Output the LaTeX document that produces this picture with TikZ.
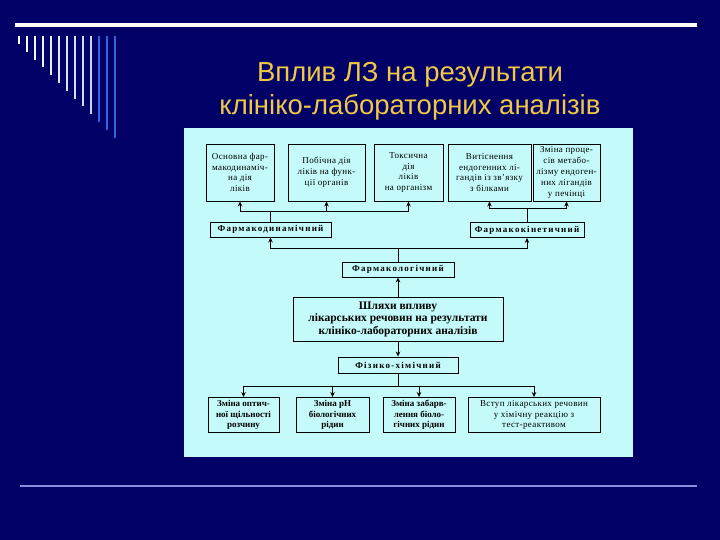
\documentclass[tikz,border=0pt]{standalone}
\usepackage{fontspec}
\setmainfont{Liberation Serif}
\newfontfamily\titlefont{Liberation Sans}
\usetikzlibrary{arrows.meta}
\definecolor{slidebg}{RGB}{0,0,102}
\definecolor{panel}{RGB}{196,250,250}
\definecolor{titlegold}{RGB}{240,200,70}
\definecolor{stripeblue}{RGB}{51,102,221}
\definecolor{rulelilac}{RGB}{140,140,220}

\begin{document}
\begin{tikzpicture}[x=1pt,y=-1pt,box/.style={draw=black,line width=0.9pt,align=center,inner sep=1pt,font=\fontsize{9}{10.8}\selectfont\addfontfeatures{LetterSpace=4}},boldbox/.style={box,font=\fontsize{9}{10.5}\selectfont\bfseries},tier/.style={box,minimum height=15pt,font=\fontsize{9}{10}\selectfont\bfseries\addfontfeatures{LetterSpace=14}},wire/.style={line width=0.9pt},link/.style={-{Stealth[length=5pt,width=4.5pt]},line width=0.9pt}]
% slide
\fill[slidebg] (0,0) rectangle (720,540);
\draw[white,line width=4pt] (15,25) -- (697,25);
\draw[rulelilac,line width=2pt] (20,486) -- (697,486);
\foreach \i in {0,...,9}{\pgfmathtruncatemacro\tint{100-3*\i}\draw[white!\tint!stripeblue,line width=2.6pt] (19+8*\i,36) -- (19+8*\i,44+7.8*\i);}
\foreach \i in {10,11,12}{\draw[stripeblue,line width=2.6pt] (19+8*\i,36) -- (19+8*\i,44+7.8*\i);}
\node[font=\titlefont\fontsize{27.5}{33}\selectfont,text=titlegold,align=center] (title) at (410,91) {Вплив ЛЗ на результати\\клініко-лабораторних аналізів};
\fill[panel] (184,128) rectangle (633,457);
% top row
\node[box,minimum width=68pt,minimum height=57pt] (t1) at (240,172.5) {Основна фар-\\макодинаміч-\\на дія\\ліків};
\node[box,minimum width=77pt,minimum height=57pt] (t2) at (326.5,172.5) {Побічна дія\\ліків на функ-\\ції органів};
\node[box,minimum width=69pt,minimum height=57pt] (t3) at (408.5,172.5) {Токсична\\дія\\ліків\\на організм};
\node[box,minimum width=83pt,minimum height=57pt] (t4) at (489.5,172.5) {Витіснення\\ендогенних лі-\\гандів із зв'язку\\з білками};
\node[box,minimum width=67pt,minimum height=57pt] (t5) at (566.5,172.5) {Зміна проце-\\сів метабо-\\лізму ендоген-\\них лігандів\\у печінці};
% middle
\node[tier,minimum width=121pt] (pd) at (270.5,229.5) {Фармакодинамічний};
\node[tier,minimum width=114pt] (pk) at (527,230) {Фармакокінетичний};
\node[tier,minimum width=112pt] (pl) at (398,269.5) {Фармакологічний};
\node[box,minimum width=210pt,minimum height=44pt,font=\fontsize{11.5}{12.5}\selectfont\bfseries] (sh) at (398,319) {Шляхи впливу\\лікарських речовин на результати\\клініко-лабораторних аналізів};
\node[tier,minimum width=120pt,minimum height=16pt] (fh) at (398,365) {Фізико-хімічний};
% bottom row
\node[boldbox,minimum width=71pt,minimum height=35pt] (b1) at (243.5,415) {Зміна оптич-\\ної щільності\\розчину};
\node[boldbox,minimum width=73pt,minimum height=35pt] (b2) at (332.5,415) {Зміна pH\\біологічних\\рідин};
\node[boldbox,minimum width=72pt,minimum height=35pt] (b3) at (419,415) {Зміна забарв-\\лення біоло-\\гічних рідин};
\node[box,minimum width=132pt,minimum height=35pt,font=\fontsize{9}{10.5}\selectfont\addfontfeatures{LetterSpace=4}] (b4) at (534,415) {Вступ лікарських речовин\\у хімічну реакцію з\\тест-реактивом};
% connectors
\coordinate (lbus) at (270.5,211);
\coordinate (rbus) at (527,208);
\coordinate (mbus) at (398,248);
\coordinate (bbus) at (398,386);
\draw[wire] (pd.north) -- (lbus);
\draw[link] (lbus) -| (t1.south);
\draw[link] (lbus) -| (t2.south);
\draw[link] (lbus) -| (t3.south);
\draw[wire] (pk.north) -- (rbus);
\draw[link] (rbus) -| (t4.south);
\draw[link] (rbus) -| (t5.south);
\draw[wire] (pl.north) -- (mbus);
\draw[link] (mbus) -| (pd.south);
\draw[link] (mbus) -| (pk.south);
\draw[link] (sh.north) -- (pl.south);
\draw[link] (sh.south) -- (fh.north);
\draw[wire] (fh.south) -- (bbus);
\draw[link] (bbus) -| (b1.north);
\draw[link] (bbus) -| (b2.north);
\draw[link] (bbus) -| (b3.north);
\draw[link] (bbus) -| (b4.north);
\end{tikzpicture}
\end{document}
